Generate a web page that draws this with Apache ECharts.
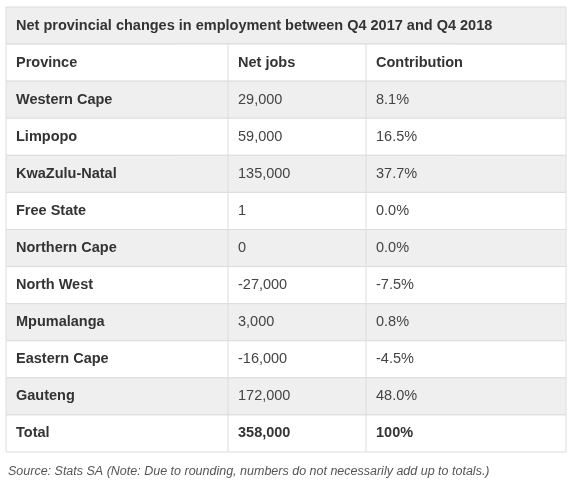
<!DOCTYPE html>
<html><head><meta charset="utf-8">
<script src="https://cdn.jsdelivr.net/npm/echarts@6/dist/echarts.min.js"></script>
<style>html,body{margin:0;background:#fff}#main{width:573px;height:486px}</style>
</head><body><div id="main"></div>
<script>
const title = 'Net provincial changes in employment between Q4 2017 and Q4 2018';
const headers = ['Province', 'Net jobs', 'Contribution'];
const provinces = ['Western Cape', 'Limpopo', 'KwaZulu-Natal', 'Free State', 'Northern Cape', 'North West', 'Mpumalanga', 'Eastern Cape', 'Gauteng', 'Total'];
const netJobs = ['29,000', '59,000', '135,000', '1', '0', '-27,000', '3,000', '-16,000', '172,000', '358,000'];
const contribution = ['8.1%', '16.5%', '37.7%', '0.0%', '0.0%', '-7.5%', '0.8%', '-4.5%', '48.0%', '100%'];
const source = 'Source: Stats SA (Note: Due to rounding, numbers do not necessarily add up to totals.)';

const chart = echarts.init(document.getElementById('main'));
const L = 6, R = 566, T = 7, B = 452, cols = [6, 228, 366, 566];
const rh = (B - T) / 12;
const font = 'Arial, "Liberation Sans", sans-serif';
let g = [];
// row backgrounds
for (let i = 0; i < 12; i++) {
  const fill = (i % 2 === 0 && i < 11) ? '#efefef' : '#fff';
  g.push({type: 'rect', shape: {x: L, y: T + i * rh, width: R - L, height: rh}, style: {fill: fill, stroke: '#dcdcdc', lineWidth: 1}});
}
// column dividers (not in title row)
[cols[1], cols[2]].forEach(x => g.push({type: 'line', shape: {x1: x, y1: T + rh, x2: x, y2: B}, style: {stroke: '#dcdcdc', lineWidth: 1}}));
function txt(s, x, y, bold) {
  g.push({type: 'text', x: x, y: y, style: {text: s, fill: bold ? '#333' : '#444', font: (bold ? 'bold ' : '') + '14.5px ' + font, textVerticalAlign: 'middle'}});
}
txt(title, L + 10, T + rh / 2, true);
headers.forEach((h, j) => txt(h, cols[j] + 10, T + rh * 1.5, true));
provinces.forEach((p, i) => {
  const y = T + rh * (i + 2.5);
  const tot = i === provinces.length - 1;
  txt(p, cols[0] + 10, y, true);
  txt(netJobs[i], cols[1] + 10, y, tot);
  txt(contribution[i], cols[2] + 10, y, tot);
});
g.push({type: 'text', x: 8, y: 472, style: {text: source, fill: '#555', font: 'italic 12.5px ' + font, textVerticalAlign: 'middle'}});
chart.setOption({graphic: g});
</script></body></html>
